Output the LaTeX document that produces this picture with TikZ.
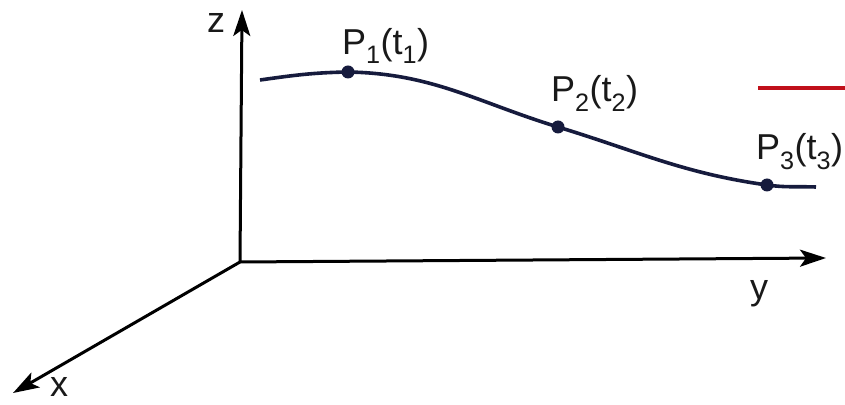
\documentclass[tikz,border=0pt]{standalone}
\usepackage{fontspec}
\setmainfont{Liberation Sans}
\usetikzlibrary{arrows.meta,positioning}
\definecolor{curveblue}{HTML}{161B3D}
\definecolor{markred}{HTML}{C0101A}
\newcommand{\pointname}[1]{P\textsubscript{#1}(t\textsubscript{#1})}

\begin{document}
\begin{tikzpicture}[
  x=1pt, y=1pt, font=\fontsize{36}{40}\selectfont,
  axis/.style={-{Stealth[length=26pt,width=17pt,inset=6pt]}, line width=3pt},
  pathcurve/.style={line width=3.6pt, curveblue},
  sample/.style={circle, fill=curveblue, inner sep=0pt, minimum size=13pt},
  tag/.style={anchor=base west, inner sep=0pt, text=black!90}]
\useasboundingbox (0,0) rectangle (845,404);
\coordinate (origin) at (240,142);
\coordinate (ztip) at (242,394);
\coordinate (ytip) at (826,146);
\coordinate (xtip) at (13,11);
\draw[axis] (origin) -- (ztip);
\draw[axis] (origin) -- (ytip);
\draw[axis] (origin) -- (xtip);
\node[tag] (zname) at (207,371) {z};
\node[tag] (yname) at (750,104) {y};
\node[tag] (xname) at (50,8) {x};
% the path with its three samples
\coordinate (start) at (260,324);
\coordinate (stop) at (816,217);
\node[sample] (p1) at (348,332) {};
\node[sample] (p2) at (558,277) {};
\node[sample] (p3) at (767,219) {};
\draw[pathcurve] (start) to[out=8,in=181] (p1.center)
  to[out=-1,in=163] (p2.center) to[out=-17,in=172] (p3.center)
  to[out=-8,in=178] (stop);
\node[tag] (p1name) at (342,349) {\pointname{1}};
\node[tag] (p2name) at (551,302) {\pointname{2}};
\node[tag] (p3name) at (756,244) {\pointname{3}};
% red mark at the right edge
\coordinate (markleft) at (758,316);
\coordinate (markright) at (845,316);
\draw[markred, line width=3.5pt] (markleft) -- (markright);
\end{tikzpicture}
\end{document}
